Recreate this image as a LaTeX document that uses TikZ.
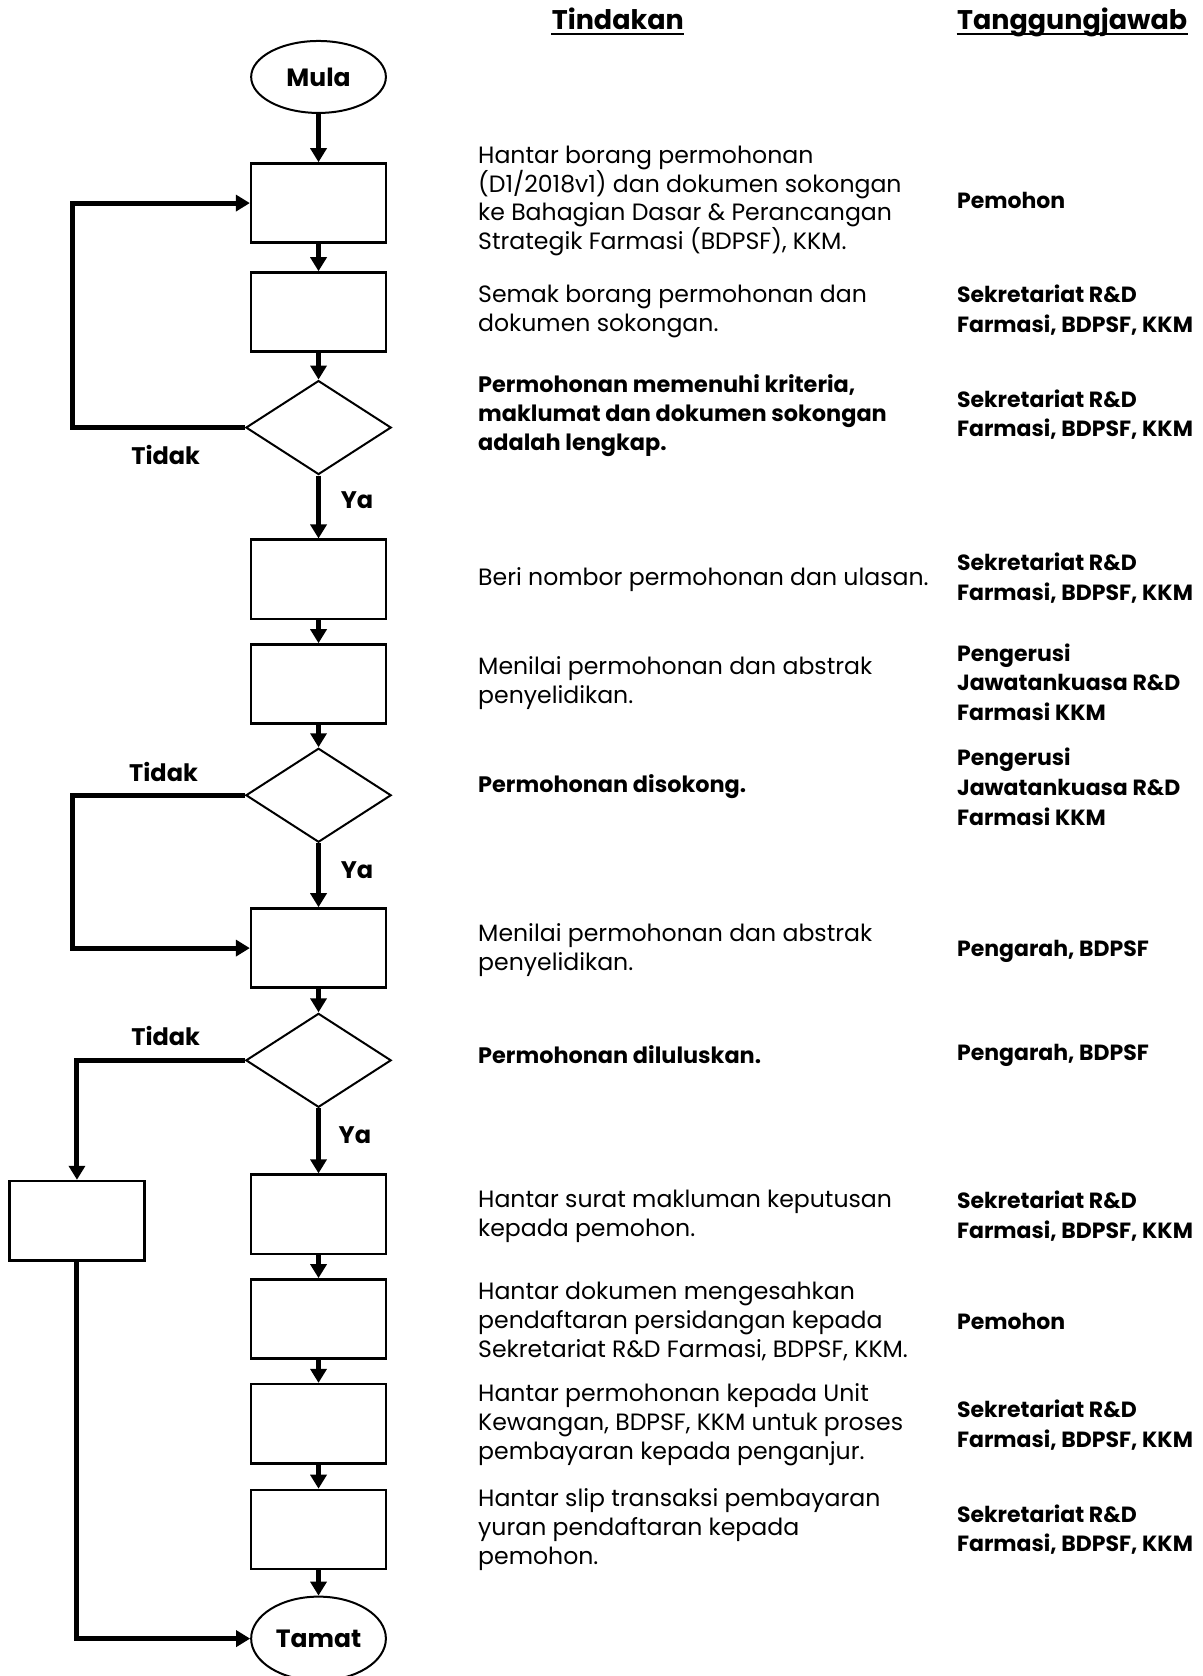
\documentclass[tikz,border=0pt]{standalone}
\usepackage{fontspec}
\setmainfont{Poppins}
\usetikzlibrary{shapes.geometric,arrows.meta}

\begin{document}
\begin{tikzpicture}[x=0.5347pt,y=-0.5347pt,
  kotak/.style={draw,line width=1.3pt,minimum width=67.4pt,minimum height=39.6pt,inner sep=0pt},
  semak/.style={draw,diamond,line width=1pt,minimum width=72.7pt,minimum height=47pt,inner sep=0pt},
  hujung/.style={draw,ellipse,line width=1pt,minimum width=67.4pt,minimum height=36pt,inner sep=0pt,font=\fontsize{12.5}{14}\selectfont\bfseries},
  anak/.style={-{Triangle[width=8pt,length=7pt]},line width=2.5pt},
  label/.style={font=\fontsize{12}{14}\selectfont\bfseries},
  tajuk/.style={inner sep=0pt,font=\fontsize{13.5}{16}\selectfont\bfseries},
  tindak/.style={anchor=west,align=left,inner sep=0pt,font=\fontsize{11.8}{14.45}\selectfont},
  tindakb/.style={tindak,font=\fontsize{11.2}{14.45}\selectfont\bfseries},
  tgjwb/.style={anchor=west,align=left,inner sep=0pt,font=\fontsize{11}{14.8}\selectfont\bfseries}]
\useasboundingbox (0,0) rectangle (1125,1568);

% tajuk
\node[tajuk,anchor=base] (h1) at (578,28) {Tindakan};
\node[tajuk,anchor=base west] (h2) at (895,28) {Tanggungjawab};
\draw[line width=1pt] ([yshift=-2pt]h1.base west) -- ([yshift=-2pt]h1.base east);
\draw[line width=1pt] ([yshift=-2pt]h2.base west) -- ([yshift=-2pt]h2.base east);

% carta alir
\node[hujung] (mula) at (298,72) {Mula};
\node[kotak] (b1) at (298,190) {};
\node[kotak] (b2) at (298,292) {};
\node[semak] (d1) at (298,400) {};
\node[kotak] (b3) at (298,542) {};
\node[kotak] (b4) at (298,640) {};
\node[semak] (d2) at (298,744) {};
\node[kotak] (b5) at (298,887) {};
\node[semak] (d3) at (298,992) {};
\node[kotak] (bx) at (72,1142) {};
\node[kotak] (b6) at (298,1136) {};
\node[kotak] (b7) at (298,1234) {};
\node[kotak] (b8) at (298,1332) {};
\node[kotak] (b9) at (298,1431) {};
\node[hujung,minimum height=42pt] (tamat) at (298,1533) {Tamat};

\coordinate (l1) at (68,400);
\coordinate (l2) at (68,744);

\draw[anak] (mula) -- (b1);
\draw[anak] (b1) -- (b2);
\draw[anak] (b2) -- (d1);
\draw[anak] (d1) -- (b3);
\draw[anak] (b3) -- (b4);
\draw[anak] (b4) -- (d2);
\draw[anak] (d2) -- (b5);
\draw[anak] (b5) -- (d3);
\draw[anak] (d3) -- (b6);
\draw[anak] (b6) -- (b7);
\draw[anak] (b7) -- (b8);
\draw[anak] (b8) -- (b9);
\draw[anak] (b9) -- (tamat);
\draw[anak] (d1.west) -- (l1) |- (b1.west);
\draw[anak] (d2.west) -- (l2) |- (b5.west);
\draw[anak] (d3.west) -| (bx.north);
\draw[anak] (bx.south) |- (tamat.west);

\node[label] (t1) at (155,426) {Tidak};
\node[label] (y1) at (334,468) {Ya};
\node[label] (t2) at (153,722) {Tidak};
\node[label] (y2) at (334,814) {Ya};
\node[label] (t3) at (155,969) {Tidak};
\node[label] (y3) at (332,1062) {Ya};

% tindakan
\node[tindak] (a1) at (447,188) {Hantar borang permohonan\\(D1/2018v1) dan dokumen sokongan\\ke Bahagian Dasar \& Perancangan\\Strategik Farmasi (BDPSF), KKM.};
\node[tindak] (a2) at (447,291) {Semak borang permohonan dan\\dokumen sokongan.};
\node[tindakb] (a3) at (447,389) {Permohonan memenuhi kriteria,\\maklumat dan dokumen sokongan\\adalah lengkap.};
\node[tindak] (a4) at (447,542) {Beri nombor permohonan dan ulasan.};
\node[tindak] (a5) at (447,639) {Menilai permohonan dan abstrak\\penyelidikan.};
\node[tindakb] (a6) at (447,736) {Permohonan disokong.};
\node[tindak] (a7) at (447,889) {Menilai permohonan dan abstrak\\penyelidikan.};
\node[tindakb] (a8) at (447,987) {Permohonan diluluskan.};
\node[tindak] (a9) at (447,1138) {Hantar surat makluman keputusan\\kepada pemohon.};
\node[tindak] (a10) at (447,1236) {Hantar dokumen mengesahkan\\pendaftaran persidangan kepada\\Sekretariat R\&D Farmasi, BDPSF, KKM.};
\node[tindak] (a11) at (447,1333) {Hantar permohonan kepada Unit\\Kewangan, BDPSF, KKM untuk proses\\pembayaran kepada penganjur.};
\node[tindak] (a12) at (447,1431) {Hantar slip transaksi pembayaran\\yuran pendaftaran kepada\\pemohon.};

% tanggungjawab
\node[tgjwb] (r1) at (895,188) {Pemohon};
\node[tgjwb] (r2) at (895,290) {Sekretariat R\&D\\Farmasi, BDPSF, KKM};
\node[tgjwb] (r3) at (895,388) {Sekretariat R\&D\\Farmasi, BDPSF, KKM};
\node[tgjwb] (r4) at (895,541) {Sekretariat R\&D\\Farmasi, BDPSF, KKM};
\node[tgjwb] (r5) at (895,638) {Pengerusi\\Jawatankuasa R\&D\\Farmasi KKM};
\node[tgjwb] (r6) at (895,736) {Pengerusi\\Jawatankuasa R\&D\\Farmasi KKM};
\node[tgjwb] (r7) at (895,890) {Pengarah, BDPSF};
\node[tgjwb] (r8) at (895,987) {Pengarah, BDPSF};
\node[tgjwb] (r9) at (895,1138) {Sekretariat R\&D\\Farmasi, BDPSF, KKM};
\node[tgjwb] (r10) at (895,1236) {Pemohon};
\node[tgjwb] (r11) at (895,1333) {Sekretariat R\&D\\Farmasi, BDPSF, KKM};
\node[tgjwb] (r12) at (895,1431) {Sekretariat R\&D\\Farmasi, BDPSF, KKM};
\end{tikzpicture}
\end{document}
